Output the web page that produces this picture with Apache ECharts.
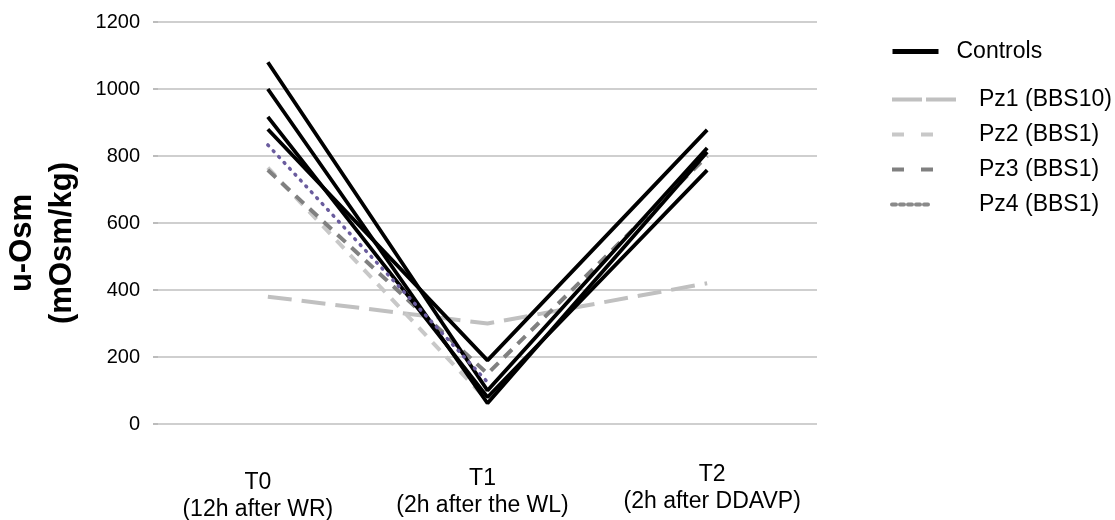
<!DOCTYPE html>
<html>
<head>
<meta charset="utf-8">
<script src="https://cdn.jsdelivr.net/npm/echarts@6/dist/echarts.min.js"></script>
<style>
html,body{margin:0;padding:0;background:#fff;}
#chart{width:1115px;height:520px;}
</style>
</head>
<body>
<div id="chart"></div>
<script>
// ---- data ----
var timeLabels = ['T0', 'T1', 'T2'];
var timeNotes = ['(12h after WR)', '(2h after the WL)', '(2h after DDAVP)'];
var yTicks = [0, 200, 400, 600, 800, 1000, 1200];

var control1 = [1080, 100, 824];
var control2 = [1000, 62, 812];
var control3 = [917, 80, 758];
var control4 = [880, 190, 878];
var pz1 = [380, 300, 420];
var pz2 = [765, 70, null];
var pz3 = [758, 150, 800];
var pz4 = [833, 125, null];

var categories = timeLabels.map(function (t, i) { return t + '\n' + timeNotes[i]; });

var chart = echarts.init(document.getElementById('chart'));
var font = 'Liberation Sans, Arial, sans-serif';

function ctrl(data) {
  return {
    name: 'Controls', type: 'line', data: data, symbol: 'none',
    lineStyle: { color: '#000', width: 3.8 }, itemStyle: { color: '#000' },
    z: 3
  };
}

// per-label text styling (Excel-like staggered labels)
var spacer = [8, 4, 0];
var padX = [[0, 20, 0, 0], [0, 10, 0, 0], [0, 0, 0, 10]];
var rich = {};
[0, 1, 2].forEach(function (i) {
  rich['s' + i] = { fontSize: 1, lineHeight: spacer[i] || 1 };
  rich['t' + i] = { fontSize: 23, fontFamily: font, color: '#000', lineHeight: 27, padding: padX[i] };
});

var option = {
  animation: false,
  grid: { left: 158, right: 298, top: 22, bottom: 96, containLabel: false, outerBoundsMode: 'none' },
  xAxis: {
    type: 'category',
    data: categories,
    boundaryGap: true,
    axisLine: { show: false },
    axisTick: { show: false },
    axisLabel: {
      interval: 0,
      margin: 37,
      color: '#000',
      fontFamily: font,
      fontSize: 23,
      lineHeight: 27,
      formatter: function (v, i) {
        var parts = v.split('\n');
        var s = (spacer[i] ? '{s' + i + '| }\n' : '');
        return s + '{t' + i + '|' + parts[0] + '}\n{t' + i + '|' + parts[1] + '}';
      },
      rich: rich
    }
  },
  yAxis: {
    type: 'value',
    min: yTicks[0],
    max: yTicks[yTicks.length - 1],
    interval: yTicks[1] - yTicks[0],
    name: 'u-Osm\n(mOsm/kg)',
    nameLocation: 'middle',
    nameRotate: 90,
    nameGap: 76,
    nameTextStyle: { fontFamily: font, fontSize: 31, fontWeight: 'bold', color: '#000', lineHeight: 40, padding: [0, 40, 0, 0] },
    axisLine: { show: false },
    axisTick: { show: true, length: 5, lineStyle: { color: '#a6a6a6', width: 1.5 } },
    splitLine: { show: true, lineStyle: { color: '#bfbfbf', width: 1.5 } },
    axisLabel: {
      color: '#000', fontFamily: font, fontSize: 20, margin: 18,
      formatter: function (v) { return String(v); }
    }
  },
  legend: [
    {
      data: [{ name: 'Controls', lineStyle: { color: '#000', width: 5, type: 'solid' } }],
      left: 885, top: 35,
      orient: 'vertical',
      itemWidth: 46, itemHeight: 24,
      itemStyle: { opacity: 0 },
      textStyle: { fontFamily: font, fontSize: 23, color: '#000', padding: [0, 0, 0, 13] }
    },
    {
      data: [
        { name: 'Pz1 (BBS10)', lineStyle: { color: '#c0c0c0', width: 4, type: [30, 4, 30, 200] } },
        { name: 'Pz2 (BBS1)', lineStyle: { color: '#c8c8c8', width: 4, type: [12, 17, 12, 200] } },
        { name: 'Pz3 (BBS1)', lineStyle: { color: '#808080', width: 4, type: [12, 17, 12, 200] } },
        { name: 'Pz4 (BBS1)', lineStyle: { color: '#8a8a8a', width: 4, type: [4, 4, 4, 4, 4, 4, 4, 4, 4, 200] } }
      ],
      left: 885, top: 83,
      orient: 'vertical',
      itemWidth: 65, itemHeight: 24, itemGap: 12,
      itemStyle: { opacity: 0 },
      textStyle: { fontFamily: font, fontSize: 23, color: '#000', padding: [0, 0, 0, 17] }
    }
  ],
  series: [
    ctrl(control1), ctrl(control2), ctrl(control3), ctrl(control4),
    {
      name: 'Pz1 (BBS10)', type: 'line', data: pz1, symbol: 'none',
      lineStyle: { color: '#c0c0c0', width: 4, type: [24, 10] }, itemStyle: { color: '#c0c0c0' }, z: 2
    },
    {
      name: 'Pz2 (BBS1)', type: 'line', data: pz2, symbol: 'none',
      lineStyle: { color: '#c8c8c8', width: 4, type: [11, 9] }, itemStyle: { color: '#c8c8c8' }, z: 2
    },
    {
      name: 'Pz3 (BBS1)', type: 'line', data: pz3, symbol: 'none',
      lineStyle: { color: '#808080', width: 4, type: [11, 8] }, itemStyle: { color: '#808080' }, z: 2
    },
    {
      name: 'Pz4 (BBS1)', type: 'line', data: pz4, symbol: 'none',
      lineStyle: { color: '#6a5c9e', width: 3.5, type: [1, 7], cap: 'round' }, itemStyle: { color: '#6a5c9e' }, z: 4
    }
  ]
};
chart.setOption(option);
</script>
</body>
</html>
